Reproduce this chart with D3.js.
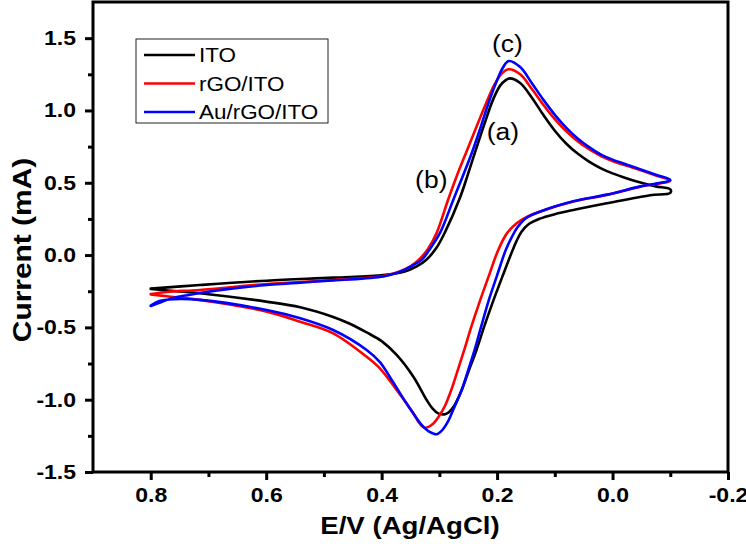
<!DOCTYPE html>
<html>
<head>
<meta charset="utf-8">
<script src="https://cdn.jsdelivr.net/npm/d3@7/dist/d3.min.js"></script>
<style>
  html, body { margin: 0; padding: 0; background: #fff; }
  svg { display: block; font-family: "Liberation Sans", Arial, sans-serif; }
</style>
</head>
<body>
<svg id="chart" width="746" height="550"></svg>
<script>
// ---- data: [E (V vs Ag/AgCl), current (mA)] in scan order ----
const seriesNames = ["ITO", "rGO/ITO", "Au/rGO/ITO"];
const seriesColors = ["#000000", "#ff0000", "#0000ff"];

const ito = [
  [0.80,-0.232],[0.715,-0.207],[0.599,-0.177],[0.484,-0.156],[0.397,-0.138],[0.36,-0.113],
  [0.34,-0.08],[0.322,-0.03],[0.305,0.05],[0.29,0.16],[0.264,0.40],[0.25,0.565],
  [0.235,0.75],[0.22,0.93],[0.207,1.075],[0.195,1.17],[0.185,1.21],[0.178,1.222],
  [0.16,1.19],[0.14,1.09],[0.12,0.97],[0.10,0.86],[0.08,0.77],[0.06,0.70],[0.04,0.645],
  [0.02,0.60],[0.0,0.565],[-0.025,0.53],[-0.05,0.50],[-0.075,0.475],[-0.10,0.455],
  [-0.10,0.43],[-0.065,0.414],[0.01,0.358],[0.068,0.312],[0.10,0.283],[0.126,0.252],
  [0.145,0.215],[0.158,0.16],[0.166,0.10],[0.173,0.035],[0.19,-0.14],[0.207,-0.32],
  [0.222,-0.49],[0.236,-0.66],[0.25,-0.81],[0.262,-0.94],[0.274,-1.04],[0.283,-1.085],
  [0.29,-1.10],[0.302,-1.095],[0.312,-1.06],[0.322,-1.002],[0.345,-0.841],[0.374,-0.69],
  [0.40,-0.595],[0.426,-0.535],[0.455,-0.475],[0.484,-0.428],[0.541,-0.361],[0.60,-0.322],
  [0.715,-0.264],[0.77,-0.245],[0.80,-0.235]
];

const rgo = [
  [0.80,-0.27],[0.772,-0.255],[0.715,-0.241],[0.599,-0.20],[0.484,-0.172],[0.397,-0.145],
  [0.37,-0.115],[0.35,-0.078],[0.335,-0.03],[0.32,0.04],[0.305,0.15],[0.285,0.381],
  [0.27,0.545],[0.252,0.725],[0.235,0.895],[0.219,1.05],[0.205,1.175],[0.192,1.255],
  [0.18,1.285],[0.16,1.25],[0.14,1.15],[0.12,1.04],[0.10,0.94],[0.08,0.855],[0.06,0.785],
  [0.04,0.73],[0.02,0.685],[0.0,0.65],[-0.025,0.617],[-0.05,0.585],[-0.075,0.55],
  [-0.10,0.515],[-0.048,0.473],[0.01,0.416],[0.068,0.37],[0.126,0.30],[0.145,0.27],
  [0.166,0.22],[0.183,0.15],[0.198,0.035],[0.214,-0.14],[0.23,-0.32],[0.245,-0.50],
  [0.258,-0.67],[0.27,-0.82],[0.28,-0.94],[0.29,-1.04],[0.30,-1.11],[0.312,-1.17],
  [0.325,-1.194],[0.335,-1.16],[0.345,-1.094],[0.374,-0.933],[0.403,-0.783],[0.426,-0.703],
  [0.484,-0.541],[0.541,-0.461],[0.599,-0.391],[0.715,-0.31],[0.772,-0.285],[0.80,-0.272]
];

const aurgo = [
  [0.80,-0.352],[0.785,-0.33],[0.765,-0.30],[0.74,-0.28],[0.715,-0.262],[0.657,-0.23],
  [0.599,-0.207],[0.484,-0.176],[0.397,-0.148],[0.37,-0.118],[0.35,-0.08],[0.33,-0.03],
  [0.315,0.05],[0.298,0.16],[0.276,0.381],[0.26,0.54],[0.244,0.704],[0.23,0.865],
  [0.215,1.05],[0.202,1.19],[0.19,1.295],[0.18,1.342],[0.16,1.30],[0.14,1.19],[0.12,1.075],
  [0.10,0.97],[0.08,0.88],[0.06,0.805],[0.04,0.745],[0.02,0.695],[0.0,0.66],
  [-0.025,0.625],[-0.05,0.59],[-0.075,0.555],[-0.10,0.52],[-0.048,0.475],[0.01,0.418],
  [0.068,0.372],[0.126,0.30],[0.15,0.255],[0.165,0.19],[0.175,0.12],[0.185,0.035],
  [0.20,-0.14],[0.215,-0.32],[0.228,-0.50],[0.24,-0.67],[0.252,-0.82],[0.262,-0.94],
  [0.275,-1.06],[0.285,-1.15],[0.295,-1.21],[0.305,-1.239],[0.318,-1.22],[0.328,-1.187],
  [0.357,-1.025],[0.386,-0.841],[0.403,-0.74],[0.426,-0.656],[0.484,-0.518],[0.541,-0.437],
  [0.599,-0.38],[0.715,-0.31],[0.76,-0.305],[0.785,-0.318],[0.80,-0.35]
];

const xTicks = [0.8, 0.6, 0.4, 0.2, 0.0, -0.2];
const xMinorTicks = [0.7, 0.5, 0.3, 0.1, -0.1];
const yTicks = [1.5, 1.0, 0.5, 0.0, -0.5, -1.0, -1.5];
const yMinorTicks = [1.25, 0.75, 0.25, -0.25, -0.75, -1.25];
const annotations = [
  {text: "(c)", E: 0.182, I: 1.46},
  {text: "(a)", E: 0.19, I: 0.85},
  {text: "(b)", E: 0.314, I: 0.52}
];
const xTitle = "E/V (Ag/AgCl)";
const yTitle = "Current (mA)";

// ---- layout ----
const STRETCH = 1.15; // text in the original is horizontally widened
const svg = d3.select("#chart");
const L = 93, R = 728, T = 2, B = 472;
const x = d3.scaleLinear().domain([0.9, -0.2]).range([L, R]);
const y = d3.scaleLinear().domain([-1.5, 1.75]).range([B, T]);

function widen(sel) {
  sel.each(function () {
    const w = this.getComputedTextLength();
    if (w > 0) d3.select(this).attr("textLength", w * STRETCH).attr("lengthAdjust", "spacingAndGlyphs");
  });
}

// curves
const line = d3.line().x(d => x(d[0])).y(d => y(d[1])).curve(d3.curveCatmullRom.alpha(0.5));
[ito, rgo, aurgo].forEach((s, i) => {
  svg.append("path").attr("d", line(s)).attr("fill", "none")
    .attr("stroke", seriesColors[i]).attr("stroke-width", 2.6)
    .attr("stroke-linejoin", "round").attr("stroke-linecap", "round");
});

// axes
const fmt = v => (Math.abs(v) < 1e-9 ? 0 : v).toFixed(1); // plain hyphen-minus
const xAxis = svg.append("g").attr("transform", `translate(0,${B})`)
  .call(d3.axisBottom(x).tickValues(xTicks).tickFormat(fmt).tickSize(8).tickPadding(8));
const xMinor = svg.append("g").attr("transform", `translate(0,${B})`)
  .call(d3.axisBottom(x).tickValues(xMinorTicks).tickFormat("").tickSize(5));
const yAxis = svg.append("g").attr("transform", `translate(${L},0)`)
  .call(d3.axisLeft(y).tickValues(yTicks).tickFormat(fmt).tickSize(8).tickPadding(9));
const yMinor = svg.append("g").attr("transform", `translate(${L},0)`)
  .call(d3.axisLeft(y).tickValues(yMinorTicks).tickFormat("").tickSize(5));
[xAxis, xMinor, yAxis, yMinor].forEach(g => {
  g.select(".domain").remove();
  g.selectAll(".tick line").attr("stroke", "#000").attr("stroke-width", 3);
  g.selectAll(".tick text").attr("fill", "#000")
    .style("font-size", "20px").style("font-weight", "bold")
    .style("font-family", "'Liberation Sans', Arial, sans-serif");
  widen(g.selectAll(".tick text"));
});

// frame
svg.append("rect").attr("x", L).attr("y", T).attr("width", R - L).attr("height", B - T)
  .attr("fill", "none").attr("stroke", "#000").attr("stroke-width", 3);

// axis titles
svg.append("text").attr("x", 410).attr("y", 534).attr("text-anchor", "middle")
  .style("font-size", "24px").style("font-weight", "bold").text(xTitle).call(widen);
svg.append("text").attr("transform", "translate(31,250) rotate(-90)").attr("text-anchor", "middle")
  .style("font-size", "26px").style("font-weight", "bold").text(yTitle).call(widen);

// legend
const lg = svg.append("g");
lg.append("rect").attr("x", 136).attr("y", 39).attr("width", 192).attr("height", 84)
  .attr("fill", "#fff").attr("stroke", "#222").attr("stroke-width", 1);
seriesNames.forEach((n, i) => {
  const yy = 55 + i * 28.5;
  lg.append("line").attr("x1", 144).attr("x2", 195).attr("y1", yy).attr("y2", yy)
    .attr("stroke", seriesColors[i]).attr("stroke-width", 2.6);
  lg.append("text").attr("x", 199).attr("y", yy).attr("dy", "0.36em")
    .style("font-size", "19.5px").text(n).call(widen);
});

// annotations
annotations.forEach(a => {
  svg.append("text").attr("x", x(a.E)).attr("y", y(a.I)).attr("text-anchor", "middle")
    .attr("dy", "0.36em").style("font-size", "23px").text(a.text).call(widen);
});
</script>
</body>
</html>
